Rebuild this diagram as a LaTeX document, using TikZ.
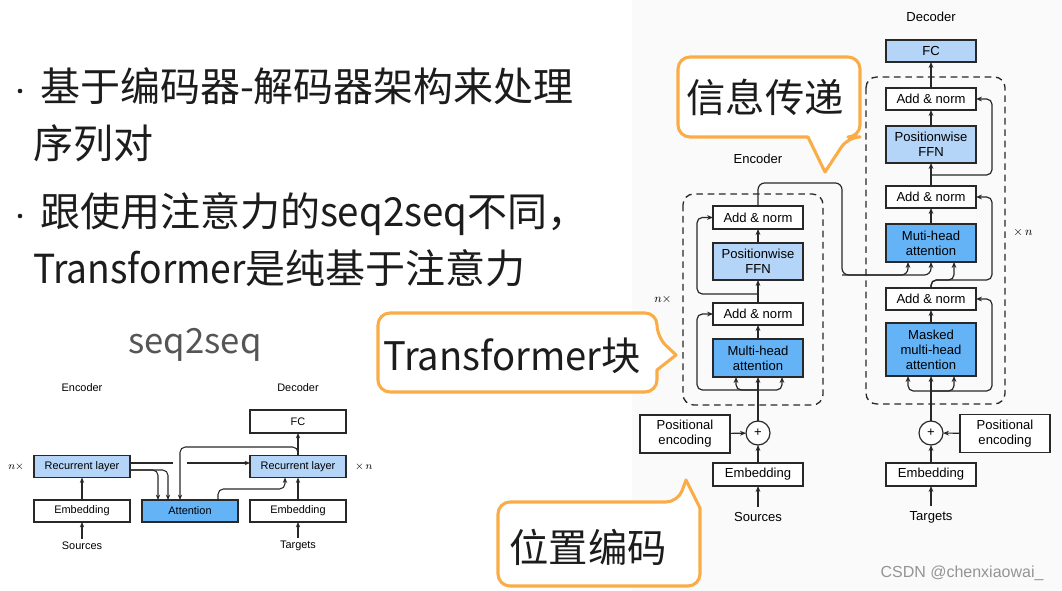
\documentclass[tikz,border=0pt]{standalone}
\usepackage{fontspec}
\setmainfont{Liberation Sans}
\setsansfont{Liberation Sans}
\newfontfamily\cjk{Noto Sans CJK SC}
\usetikzlibrary{arrows.meta,calc}

\definecolor{calloutorange}{RGB}{250,172,70}
\definecolor{ffnblue}{RGB}{180,213,248}
\definecolor{attblue}{RGB}{99,179,246}
\definecolor{linegray}{RGB}{40,40,40}
\definecolor{inkdark}{RGB}{28,28,28}
\definecolor{titlegray}{RGB}{85,85,85}
\definecolor{panelgray}{RGB}{250,250,250}

\newcommand\diagfont{\sffamily\fontsize{9.8}{11.3}\selectfont}
\newcommand\sdfont{\sffamily\fontsize{8.2}{9.6}\selectfont}
\newcommand\bigcjk{\cjk\fontsize{30}{34}\selectfont}
% Latin words inside the large CJK lines are set a little narrower
\newcommand\narrowlatin[2]{\scalebox{#1}[1]{#2}}

\begin{document}
\begin{tikzpicture}[x=0.75pt,y=-0.75pt,
  every node/.style={inner sep=0pt, outer sep=0pt},
  box/.style={draw=linegray, line width=0.9pt, fill=white, align=center,
    minimum width=67.5pt, font=\diagfont},
  sbox/.style={draw=linegray, line width=0.8pt, fill=white, align=center,
    minimum width=72pt, minimum height=16.5pt, font=\sdfont},
  lbl/.style={font=\diagfont, outer sep=4pt},
  slbl/.style={font=\sdfont, outer sep=2.5pt},
  arr/.style={-{Stealth[length=4.5pt,width=3.6pt]}, line width=0.9pt, draw=linegray},
  sarr/.style={-{Stealth[length=4pt,width=3.2pt]}, line width=0.8pt, draw=linegray},
  rc/.style={rounded corners=4pt},
  group/.style={draw=linegray, line width=1pt, dash pattern=on 5pt off 3.5pt, rounded corners=8pt},
  callout/.style={draw=calloutorange, line width=2.3pt, fill=white, line join=round},
  bullettext/.style={font=\bigcjk, text=inkdark, anchor=west, text height=25pt, text depth=4pt},
  callouttext/.style={font=\cjk\fontsize{29.5}{34}\selectfont, text=inkdark}
]
\useasboundingbox (0,0) rectangle (1062,591);
\fill[white] (0,0) rectangle (1062,591);
\fill[panelgray] (632,0) rectangle (1062,591);

% ---------------- bullet list ----------------
\fill[inkdark] (20,91) circle (2.3);
\fill[inkdark] (20,216) circle (2.3);
\node[bullettext] (b1) at (40,88) {基于编码器-解码器架构来处理};
\node[bullettext] (b2) at (33,145) {序列对};
\node[bullettext] (b3) at (40,213) {跟使用注意力的\narrowlatin{0.96}{seq2seq}不同，};
\node[bullettext] (b4) at (33,270) {\narrowlatin{0.93}{Transformer}是纯基于注意力};

\node[font=\cjk\fontsize{26}{30}\selectfont, text=titlegray] (sTitle) at (195,345) {seq2seq};

% ---------------- seq2seq with attention ----------------
\node[font=\sdfont] (sEncL) at (82,388) {Encoder};
\node[font=\sdfont] (sDecL) at (298,388) {Decoder};
\node[sbox, minimum height=17.25pt] (sFC) at (298,421.5) {FC};
\node[sbox, fill=ffnblue] (sRecE) at (82,466.5) {Recurrent layer};
\node[sbox, fill=ffnblue] (sRecD) at (298,466.5) {Recurrent layer};
\node[sbox] (sEmbE) at (82,511) {Embedding};
\node[sbox, fill=attblue] (sAtt) at (190,511) {Attention};
\node[sbox] (sEmbD) at (298,511) {Embedding};
\node[slbl] (sSrc) at (82,546) {Sources};
\node[slbl] (sTgt) at (298,546) {Targets};
\node[font=\fontsize{8}{9}\selectfont, anchor=east] (sNl) at (24,467) {$n\times$};
\node[font=\fontsize{8}{9}\selectfont, anchor=west] (sNr) at (355,467) {$\times\,n$};

\draw[sarr] (sSrc) -- (sEmbE);
\draw[sarr] (sEmbE) -- (sRecE);
\draw[sarr] (sTgt) -- (sEmbD);
\draw[sarr] (sEmbD) -- (sRecD);
\draw[sarr] (sRecD) -- (sFC);

\coordinate (sGapL) at (173,463);
\coordinate (sGapR) at (187,463);
\draw[line width=0.8pt, draw=linegray] ($(sRecE.east)+(0,-3.5)$) -- (sGapL);
\draw[sarr] (sGapR) -- ($(sRecD.west)+(0,-3.5)$);
\draw[sarr, rc] ($(sRecE.east)+(0,3.5)$) -| ($(sAtt.north)+(-32,0)$);
\draw[sarr, rc] ($(sRecE.east)+(0,3.5)$) -| ($(sAtt.north)+(-22,0)$);
\coordinate (sFb) at (298,447);
\draw[sarr, rc] (sRecD.north) -- (sFb) -| ($(sAtt.north)+(-10,0)$);
\coordinate (sCtx) at (250,489);
\draw[sarr, rc] ($(sAtt.north)+(28,0)$) |- (sCtx) -| ($(sRecD.south)+(-13,0)$);

% ---------------- Transformer encoder ----------------
\node[lbl] (enL) at (758,159) {Encoder};
\draw[group] (683,194) rectangle (823,405);
\node[font=\fontsize{9.5}{11}\selectfont] (enN) at (663,299) {$n\times$};

\node[box, minimum height=17.25pt] (enA2) at (758,217.5) {Add \& norm};
\node[box, minimum height=27.75pt, fill=ffnblue] (enF) at (758,261.5) {Positionwise\\FFN};
\node[box, minimum height=16.5pt] (enA1) at (758,314) {Add \& norm};
\node[box, minimum height=28.5pt, fill=attblue] (enM) at (758,358) {Multi-head\\attention};
\node[draw=linegray, line width=0.9pt, circle, minimum size=18pt, fill=white, font=\diagfont] (enP) at (758,433) {+};
\node[box, minimum height=28.5pt] (enPE) at (685,434) {Positional\\encoding};
\node[box, minimum height=17.25pt] (enE) at (758,474.5) {Embedding};
\node[lbl] (enSrc) at (758,517) {Sources};

\draw[arr] (enSrc) -- (enE);
\draw[arr] (enE) -- (enP);
\draw[arr] (enPE) -- (enP);
\draw[arr] (enP) -- (enM);
\coordinate (enJ1) at (758,390);
\coordinate (enR1) at (697,390);
\draw[arr, rc] (enJ1) -| ($(enM.south)+(-22,0)$);
\draw[arr, rc] (enJ1) -| ($(enM.south)+(24,0)$);
\draw[arr, rc] (enJ1) -- (enR1) |- (enA1.west);
\draw[arr] (enM) -- (enA1);
\draw[arr] (enA1) -- (enF);
\coordinate (enJ2) at (758,294);
\coordinate (enR2) at (697,294);
\draw[arr, rc] (enJ2) -- (enR2) |- (enA2.west);
\draw[arr] (enF) -- (enA2);

% encoder output to the decoder attention
\coordinate (enO1) at (758,183);
\coordinate (enO2) at (842,183);
\coordinate (enO3) at (842,275);

% ---------------- Transformer decoder ----------------
\node[lbl] (deL) at (931,17) {Decoder};
\draw[group] (866,77) rectangle (1005,404);
\node[font=\fontsize{9.5}{11}\selectfont] (deN) at (1023,233) {$\times\,n$};

\node[box, minimum height=16.5pt, fill=ffnblue] (deFC) at (931,51) {FC};
\node[box, minimum height=16.5pt] (deA3) at (931,99) {Add \& norm};
\node[box, minimum height=27.75pt, fill=ffnblue] (deF) at (931,144.5) {Positionwise\\FFN};
\node[box, minimum height=16.5pt] (deA2) at (931,197) {Add \& norm};
\node[box, minimum height=28.5pt, fill=attblue] (deM) at (931,243) {Muti-head\\attention};
\node[box, minimum height=16.5pt] (deA1) at (931,299) {Add \& norm};
\node[box, minimum height=39.75pt, fill=attblue] (deMM) at (931,349.5) {Masked\\multi-head\\attention};
\node[draw=linegray, line width=0.9pt, circle, minimum size=18pt, fill=white, font=\diagfont] (deP) at (931,433) {+};
\node[box, minimum height=28.5pt] (dePE) at (1005,433.5) {Positional\\encoding};
\node[box, minimum height=17.25pt] (deE) at (931,474.5) {Embedding};
\node[lbl] (deTgt) at (931,517) {Targets};

\draw[arr] (deTgt) -- (deE);
\draw[arr] (deE) -- (deP);
\draw[arr] (dePE) -- (deP);
\draw[arr] (deP) -- (deMM);
\coordinate (deJ1) at (931,391);
\coordinate (deR1) at (992,391);
\draw[arr, rc] (deJ1) -| ($(deMM.south)+(-23,0)$);
\draw[arr, rc] (deJ1) -| ($(deMM.south)+(23,0)$);
\draw[arr, rc] (deJ1) -- (deR1) |- (deA1.east);
\draw[arr] (deMM) -- (deA1);
\coordinate (deJ2) at (931,280);
\coordinate (deR2) at (992,280);
\draw[arr, rc] (deA1.north) -- (deJ2) -| ($(deM.south)+(23,0)$);
\draw[arr, rc] (deA1.north) -- (deJ2) -- (deR2) |- (deA2.east);
\draw[arr] (deM) -- (deA2);
\draw[arr] (deA2) -- (deF);
\coordinate (deJ3) at (931,175);
\coordinate (deR3) at (992,175);
\draw[arr, rc] (deJ3) -- (deR3) |- (deA3.east);
\draw[arr] (deF) -- (deA3);
\draw[arr] (deA3) -- (deFC);

\draw[arr, rounded corners=5pt] (enA2.north) -- (enO1) -- (enO2) -- (enO3) -| ($(deM.south)+(-23,0)$);
\draw[arr, rounded corners=5pt] (enO3) -| (deM.south);

% ---------------- callouts ----------------
\draw[callout, rounded corners=9pt] (678,57) -- (860,57) -- (860,137) -- (848,137)
  [sharp corners] -- (825,172) -- (808,137) [rounded corners=9pt] -- (678,137) -- cycle;
\node[callouttext] (cInfo) at (765,97) {信息传递};

\draw[callout, rounded corners=9pt] (378,313) -- (657,313) -- (657,337)
  [sharp corners] -- (676,355) -- (657,370) [rounded corners=9pt] -- (657,392) -- (378,392) -- cycle;
\node[callouttext] (cBlock) at (512,356) {\narrowlatin{0.97}{Transformer}块};

\draw[callout, rounded corners=9pt] (498,502) -- (678,502)
  [sharp corners] -- (686,480) -- (700,508) [rounded corners=9pt] -- (700,586) -- (498,586) -- cycle;
\node[callouttext] (cPos) at (588,547) {位置编码};

% ---------------- watermark ----------------
\node[font=\sffamily\fontsize{12}{14}\selectfont, text=black!42] (wm) at (962,573) {CSDN @chenxiaowai\_};
\end{tikzpicture}
\end{document}
